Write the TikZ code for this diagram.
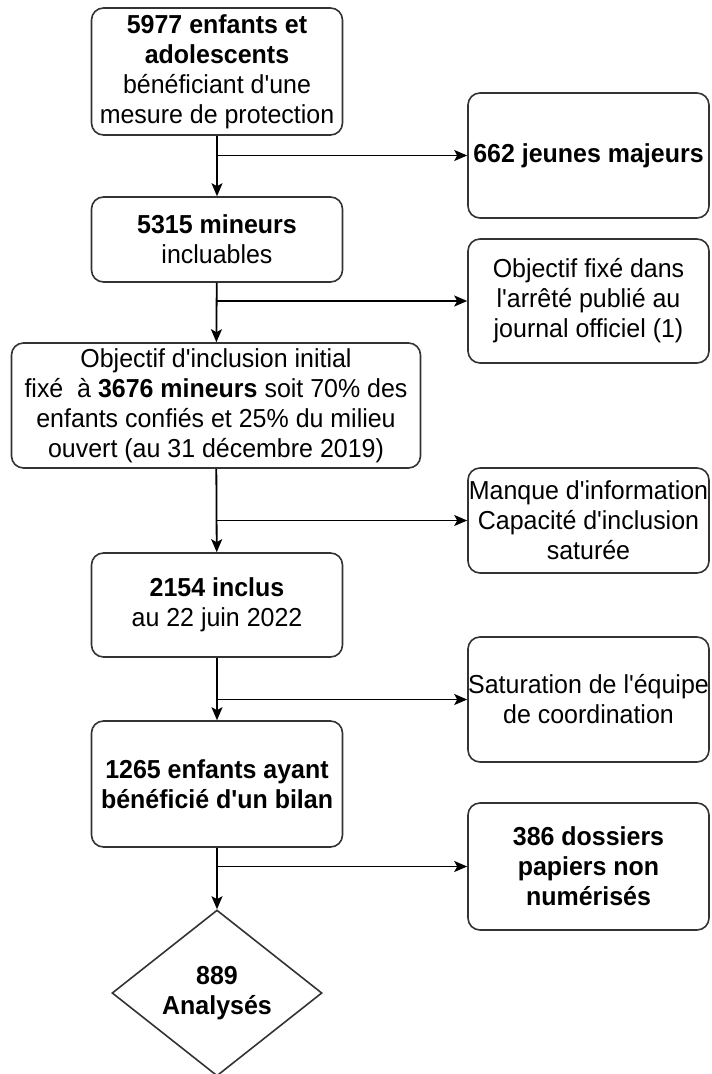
\documentclass[tikz,border=0pt]{standalone}
\usepackage{fontspec}
\setmainfont[FakeStretch=0.96,Ligatures=TeXOff]{Liberation Sans}
\usetikzlibrary{arrows.meta,shapes.geometric}

\begin{document}
\begin{tikzpicture}[x=1pt, y=-1pt,
    box/.style={draw=black!80, line width=1.6pt, rounded corners=12pt, align=center, inner sep=0pt},
    gauche/.style={box, minimum width=251pt},
    droite/.style={box, minimum width=241pt},
    fleche/.style={-{Stealth[length=13pt,width=11pt,inset=3pt]}, line width=1.8pt},
    every node/.style={font=\fontsize{26}{30}\selectfont}]
  \useasboundingbox (0,0) rectangle (712,1074);

  % colonne principale
  \node[gauche, minimum height=127pt] (b1) at (217,71.5) {\textbf{5977 enfants et}\\\textbf{adolescents}\\bénéficiant d'une\\mesure de protection};
  \node[gauche, minimum height=85pt] (b2) at (217,239.5) {\textbf{5315 mineurs}\\incluables};
  \node[box, minimum width=409pt, minimum height=125pt] (b3) at (216,405.5) {Objectif d'inclusion initial\\fixé\ \ à \textbf{3676 mineurs} soit 70\% des\\enfants confiés et 25\% du milieu\\ouvert (au 31 décembre 2019)};
  \node[gauche, minimum height=104pt] (b4) at (217,605) {\textbf{2154 inclus}\\au 22 juin 2022};
  \node[gauche, minimum height=126pt] (b5) at (217,784) {\textbf{1265 enfants ayant}\\\textbf{bénéficié d'un bilan}};
  \node[diamond, draw=black!80, line width=1.6pt, align=center, inner sep=0pt, aspect=1.265, minimum width=210pt, minimum height=166pt] (fin) at (217,993) {\textbf{889}\\\textbf{Analysés}};

  % exclusions
  \node[droite, minimum height=125pt] (r1) at (588.5,155.5) {\textbf{662 jeunes majeurs}};
  \node[droite, minimum height=124pt] (r2) at (588.5,301) {Objectif fixé dans\\l'arrêté publié au\\journal officiel (1)};
  \node[droite, minimum height=105pt] (r3) at (588.5,520.5) {Manque d'information\\Capacité d'inclusion\\saturée};
  \node[droite, minimum height=125pt] (r4) at (588.5,699.5) {Saturation de l'équipe\\de coordination};
  \node[droite, minimum height=127pt] (r5) at (588.5,866.5) {\textbf{386 dossiers}\\\textbf{papiers non}\\\textbf{numérisés}};

  \coordinate (j1) at (b1.south |- r1.west);
  \coordinate (j2) at (b2.south |- r2.west);
  \coordinate (j3) at (b3.south |- r3.west);
  \coordinate (j4) at (b4.south |- r4.west);
  \coordinate (j5) at (b5.south |- r5.west);

  \draw[fleche] (b1) -- (b2);
  \draw[fleche] (b2) -- (b3);
  \draw[fleche] (b3) -- (b4);
  \draw[fleche] (b4) -- (b5);
  \draw[fleche] (b5) -- (fin);

  \draw[fleche] (j1) -- (r1);
  \draw[fleche] (j2) -- (r2);
  \draw[fleche] (j3) -- (r3);
  \draw[fleche] (j4) -- (r4);
  \draw[fleche] (j5) -- (r5);
\end{tikzpicture}
\end{document}
